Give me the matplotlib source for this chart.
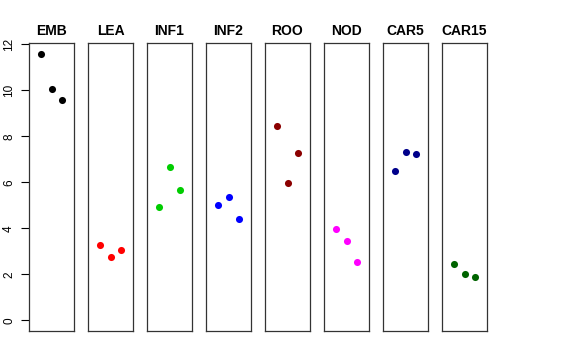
import matplotlib
matplotlib.use("Agg")
import matplotlib.pyplot as plt

plt.rcParams['font.family'] = ['Liberation Sans', 'DejaVu Sans']

tissues = ['EMB', 'LEA', 'INF1', 'INF2', 'ROO', 'NOD', 'CAR5', 'CAR15']
colors = ['black', 'red', '#00CD00', 'blue', '#8B0000', 'magenta', '#00008B', '#006400']
reps = [1, 2, 3]
values = [
    [11.58, 10.06, 9.57],
    [3.26, 2.77, 3.06],
    [4.91, 6.68, 5.68],
    [5.03, 5.35, 4.40],
    [8.45, 5.96, 7.29],
    [3.99, 3.43, 2.55],
    [6.51, 7.32, 7.22],
    [2.46, 2.00, 1.90],
]
yticks = [0, 2, 4, 6, 8, 10, 12]

W, H = 576, 360
fig = plt.figure(figsize=(W / 100, H / 100), dpi=100)

left0, step, width = 29, 59, 45
top, bottom = 43, 331
ymax = 11.6
ypad = ymax * 0.04

for i, (name, col, vals) in enumerate(zip(tissues, colors, values)):
    ax = fig.add_axes([(left0 + i * step) / W, (H - bottom) / H,
                       width / W, (bottom - top) / H])
    ax.scatter(reps, vals, s=26, color=col, zorder=3, linewidths=0)
    ax.set_xlim(-0.16, 4.16)
    ax.set_ylim(-ypad, ymax + ypad)
    ax.set_xticks([])
    for sp in ax.spines.values():
        sp.set_linewidth(0.9)
        sp.set_color('#333333')
    ax.set_title(name, fontsize=10, fontweight='bold', pad=6)
    if i == 0:
        ax.set_yticks(yticks)
        ax.set_yticklabels([str(t) for t in yticks], rotation=90,
                           va='center', fontsize=8.5)
        ax.tick_params(axis='y', length=6, width=0.8, pad=4)
    else:
        ax.set_yticks([])

fig.savefig('out.png', dpi=100)
